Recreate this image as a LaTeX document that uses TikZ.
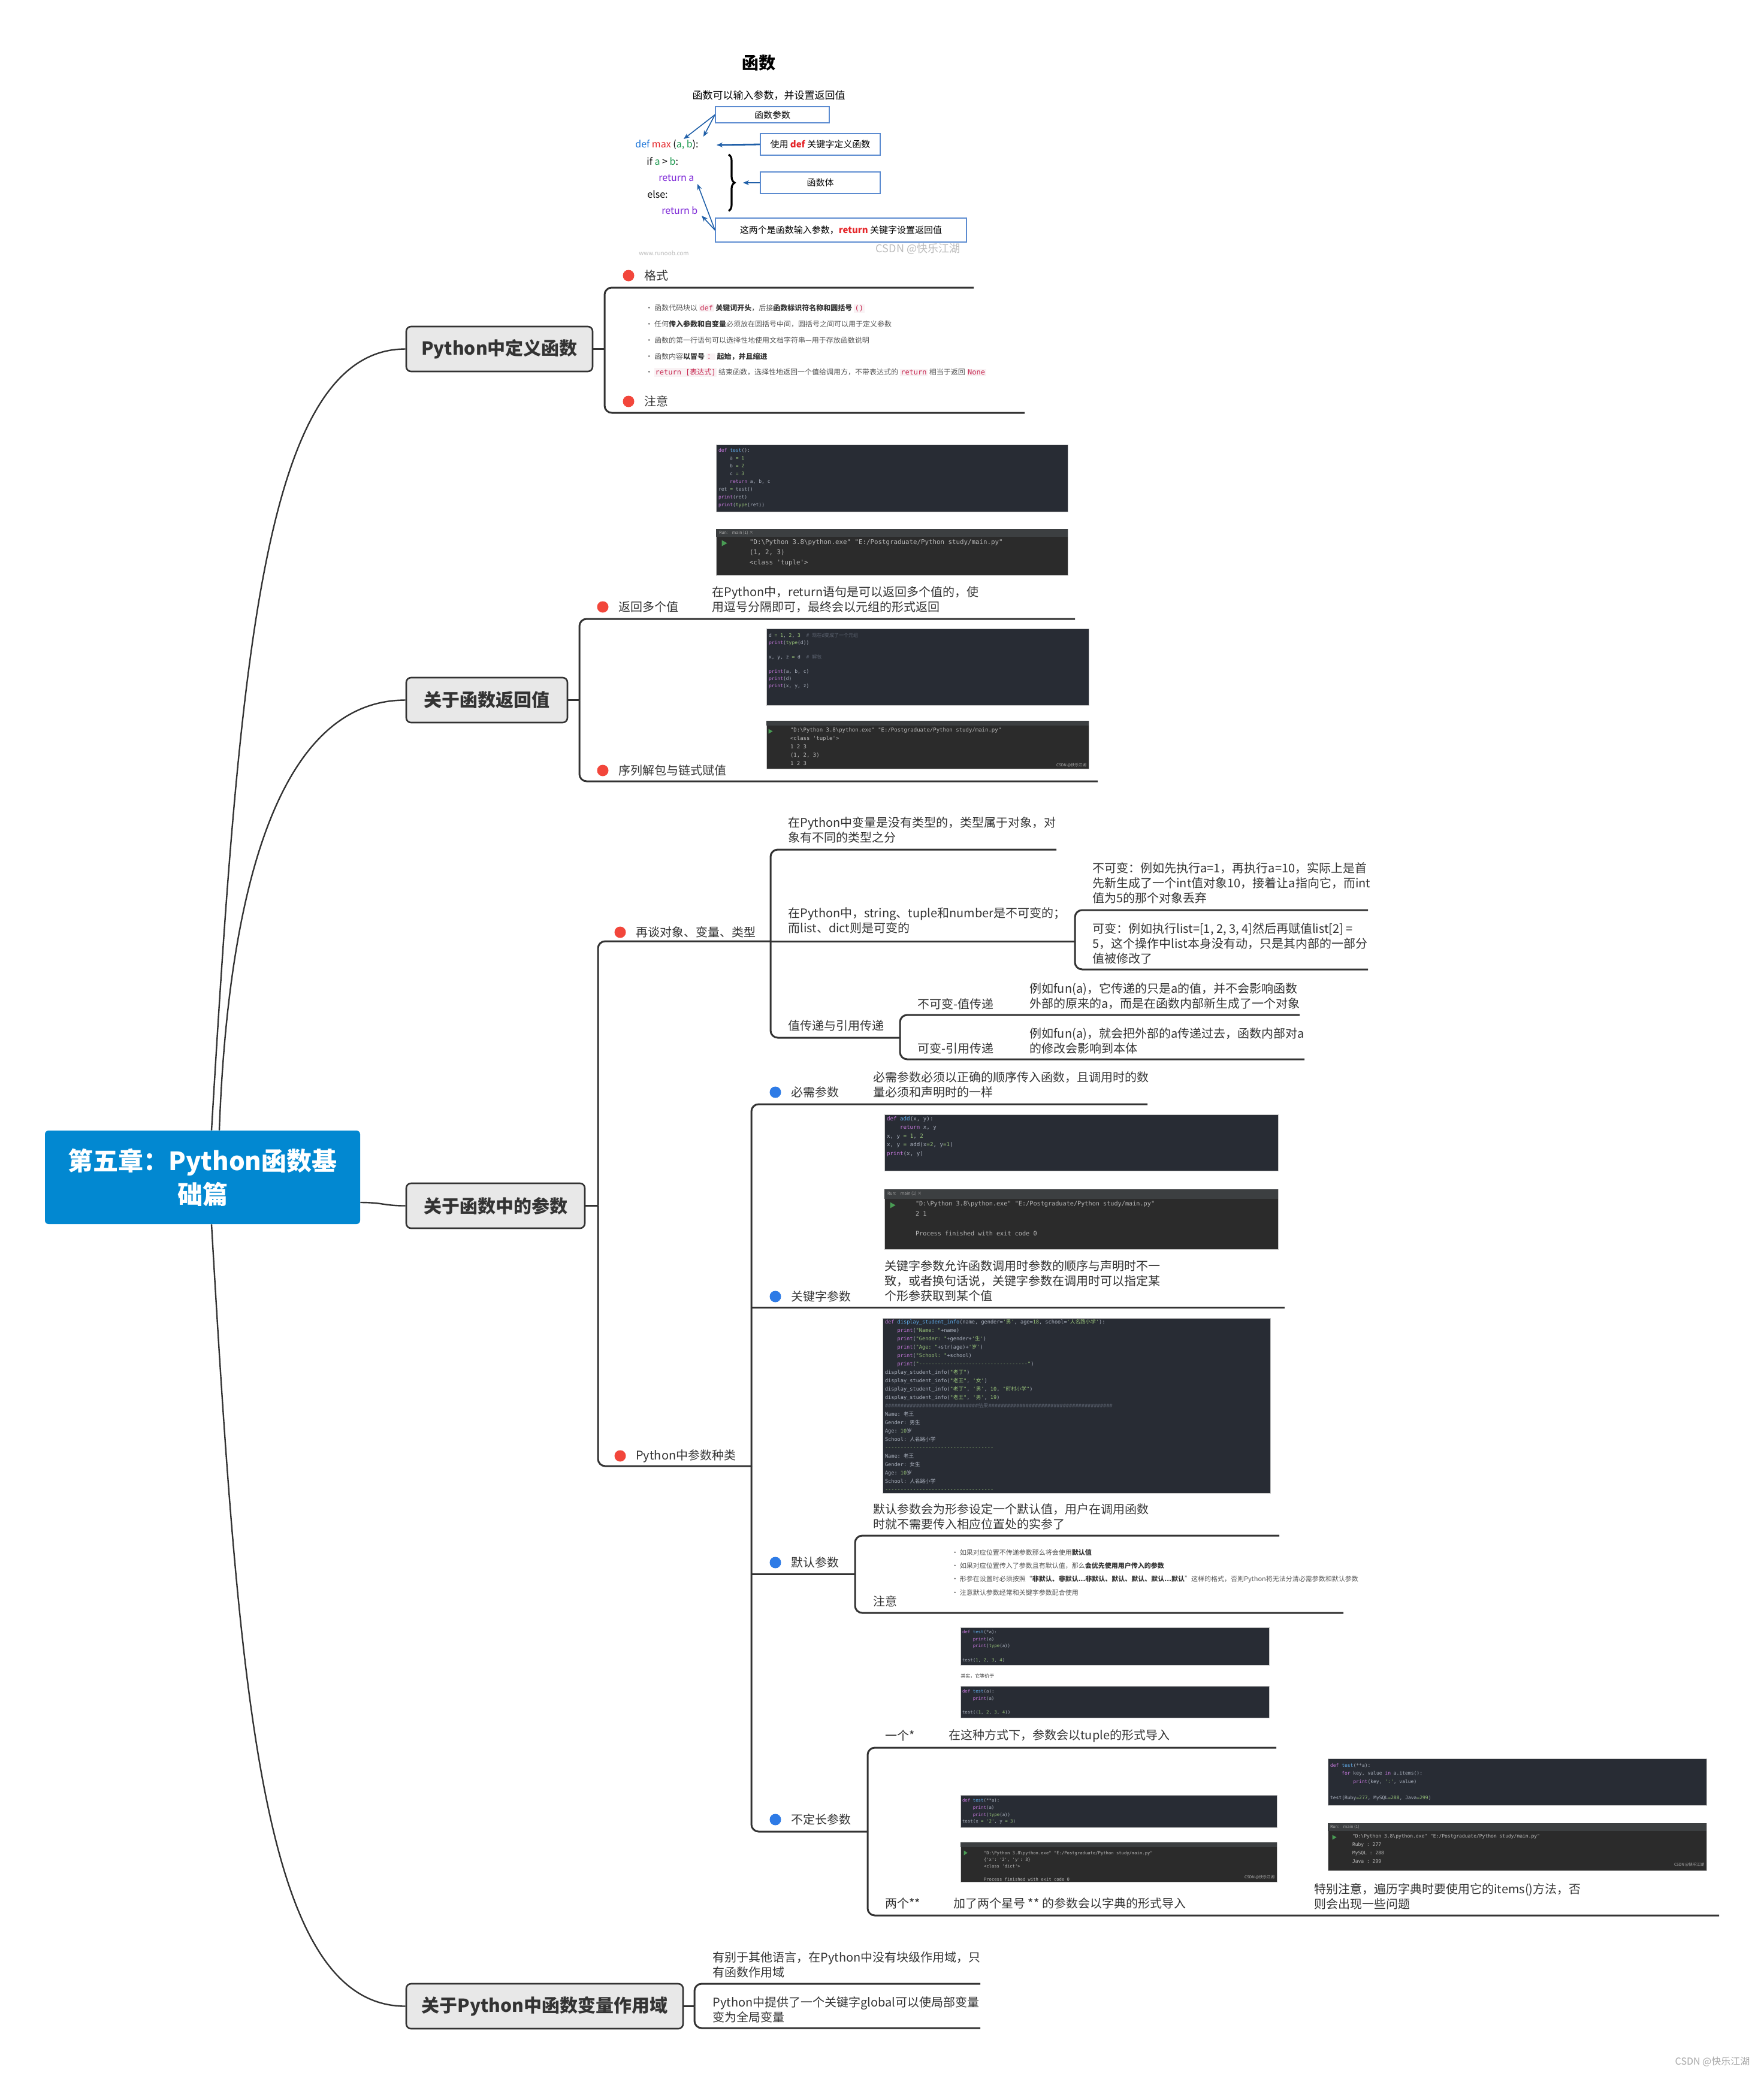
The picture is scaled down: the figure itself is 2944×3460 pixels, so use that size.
\documentclass[tikz,border=0pt]{standalone}
\usepackage{fontspec}
\setmainfont{Noto Sans CJK SC}
\setmonofont{DejaVu Sans Mono}
\usetikzlibrary{arrows.meta, fit, positioning, decorations.pathreplacing}

\definecolor{linegray}{HTML}{333333}
\definecolor{rootblue}{HTML}{0288D1}
\definecolor{topicgray}{HTML}{E8E8E8}
\definecolor{textdark}{HTML}{333333}
\definecolor{dotred}{HTML}{F2463B}
\definecolor{dotblue}{HTML}{2E7BE6}
\definecolor{codebg}{HTML}{282C34}
\definecolor{runbg}{HTML}{2B2B2B}
\definecolor{runhead}{HTML}{3C3F41}
\definecolor{codetext}{HTML}{ABB2BF}
\definecolor{ckw}{HTML}{C678DD}
\definecolor{cfn}{HTML}{61AFEF}
\definecolor{cnum}{HTML}{98C379}
\definecolor{ccmt}{HTML}{5C6370}
\definecolor{runtext}{HTML}{BBBBBB}
\definecolor{rungreen}{HTML}{499C54}
\definecolor{figblue}{HTML}{5B8BD0}
\definecolor{arrowblue}{HTML}{1F5FA8}
\definecolor{fdef}{HTML}{1A74D8}
\definecolor{fred}{HTML}{E5262A}
\definecolor{fgreen}{HTML}{1E9A50}
\definecolor{fpurple}{HTML}{7A22D6}
\definecolor{inlinered}{HTML}{C7254E}
\definecolor{inlinebg}{HTML}{F9F2F4}
\definecolor{bulletgray}{HTML}{555555}
\definecolor{wmgray}{HTML}{BBBBBB}

\newcommand\kwd[1]{\textcolor{ckw}{#1}}
\newcommand\fnc[1]{\textcolor{cfn}{#1}}
\newcommand\numc[1]{\textcolor{cnum}{#1}}
\newcommand\strc[1]{\textcolor{cnum}{#1}}
\newcommand\cmtc[1]{\textcolor{ccmt}{#1}}
\newcommand\cind{\hspace*{2.4em}}
\newcommand\zh[1]{{\rmfamily #1}}
\newcommand\hashes{\#\#\#\#\#\#\#\#\#\#\#\#\#\#\#\#\#\#\#\#\#\#\#\#\#\#\#\#\#\#}
\newcommand\runpath{"D:\textbackslash Python 3.8\textbackslash python.exe" "E:/Postgraduate/Python study/main.py"}
\newcommand\icode[1]{{\setlength{\fboxsep}{0.8pt}\colorbox{inlinebg}{\textcolor{inlinered}{\ttfamily #1}}}}

\tikzset{
  >={Stealth[length=5pt,width=4pt]},
  root/.style={fill=rootblue, text=white, rounded corners=3pt, align=center,
    font=\fontsize{21}{28}\selectfont\bfseries, minimum width=263pt, minimum height=78pt},
  topic/.style={fill=topicgray, draw=linegray, line width=1.3pt, rounded corners=4pt,
    font=\fontsize{15}{18}\selectfont\bfseries, text=textdark, minimum height=37.5pt},
  rootlink/.style={line width=1.2pt, draw=linegray},
  branch/.style={line width=1.5pt, draw=linegray, rounded corners=6pt},
  leaf/.style={anchor=west, inner sep=0pt, align=left, text=textdark,
    font=\fontsize{10}{12.5}\selectfont},
  bullets/.style={anchor=west, inner sep=0pt, align=left, text=bulletgray,
    font=\fontsize{6}{13.4}\selectfont},
  reddot/.style={circle, fill=dotred, minimum size=9.5pt, inner sep=0pt},
  bluedot/.style={circle, fill=dotblue, minimum size=9.5pt, inner sep=0pt},
  codebox/.style={fill=codebg, draw=gray!45, line width=0.4pt, inner sep=0pt},
  runbox/.style={fill=runbg, draw=gray!45, line width=0.4pt, inner sep=0pt},
  codetxt/.style={anchor=north west, inner sep=0pt, align=left, text=codetext,
    font=\ttfamily\fontsize{4}{6.5}\selectfont},
  runtxt/.style={codetxt, text=runtext},
  runhdr/.style={anchor=west, inner sep=0pt, text=gray!70, font=\fontsize{3.5}{4}\selectfont},
  wm/.style={anchor=south east, inner sep=0pt, text=gray!60, font=\fontsize{3.2}{4}\selectfont},
  figbox/.style={draw=figblue, line width=0.8pt, inner sep=0pt, text=black,
    font=\fontsize{7.5}{9}\selectfont},
  fcode/.style={anchor=west, inner sep=0pt, text=black, font=\fontsize{8}{10}\selectfont},
  figarrow/.style={->, draw=arrowblue, line width=0.8pt}
}

\begin{document}
\begin{tikzpicture}[x=0.5pt, y=-0.5pt]
  \fill[white] (0,0) rectangle (2944,3460);
  \useasboundingbox (0,0) rectangle (2944,3460);

  % --- ROOT AND MAIN TOPICS ---
  \node[root] (root) at (338,1965) {第五章：Python函数基\\础篇};
  \node[topic, minimum width=155.5pt] (t1) at (833.5,582.5) {Python中定义函数};
  \node[topic, minimum width=134.5pt] (t2) at (812.5,1168.5) {关于函数返回值};
  \node[topic, minimum width=149pt] (t3) at (827,2012.5) {关于函数中的参数};
  \node[topic, minimum width=231pt] (t4) at (909,3348.5) {关于Python中函数变量作用域};

  \draw[rootlink] ([xshift=7.5pt]root.north) .. controls (400,1100) and (440,582.5) .. (t1.west);
  \draw[rootlink] ([xshift=14pt]root.north) .. controls (380,1500) and (460,1168.5) .. (t2.west);
  \draw[rootlink] ([yshift=-21pt]root.east) .. controls (640,2007) and (640,2012.5) .. (t3.west);
  \draw[rootlink] ([xshift=7.5pt]root.south) .. controls (400,2850) and (440,3348.5) .. (t4.west);

  % --- BRACKETS AND UNDERLINES ---
  \foreach \name/\x/\y in {b1/1009/582.5, b1-up/1625/480, b1-dn/1710/689,
      b2/967/1168.5, b2-up/1794/1033, b2-dn/1832/1304,
      b3/998/2012.5, bA/1286/1571, bB/1254/2447,
      bA-up/1763/1418, bA2/1794/1571, bA3/1502/1732,
      bA2-up/2283/1519, bA2-dn/2283/1618, bA3-up/2169/1694, bA3-dn/2177/1768,
      bB-up/1915/1843, bB-kw/1254/2182, bB-kw-end/2144/2182, bB-def/1254/2627,
      bC/1427/2627, bC-up/2135/2563, bC-dn/2242/2692,
      bD/1448/3057, bD-up/2130/2917, bD-dn/2869/3197,
      b4/1159/3348.5, b4-up/1636/3311, b4-dn/1636/3385}
    \coordinate (\name) at (\x,\y);

  \foreach \i in {1,2,3,4} \draw[branch] (t\i.east) -- (b\i);
  \foreach \a/\b in {b1/b1-up, b1/b1-dn, b2/b2-up, b2/b2-dn, b3/bA, b3/bB,
      bA/bA-up, bA/bA3, bA2/bA2-up, bA2/bA2-dn, bA3/bA3-up, bA3/bA3-dn,
      bB/bB-up, bB/bD, bC/bC-up, bC/bC-dn, bD/bD-up, bD/bD-dn, b4/b4-up, b4/b4-dn}
    \draw[branch] (\a) |- (\b);
  \draw[branch] (bA) -- (bA2);
  \draw[branch] (bB-kw) -- (bB-kw-end);
  \draw[branch] (bB-def) -- (bC);

  % --- TOPIC 1: FUNCTION FIGURE ---
  \node[font=\fontsize{14}{16}\selectfont\bfseries] (f-title) at (1266,105) {函数};
  \node[font=\fontsize{8.5}{10}\selectfont] (f-sub) at (1283,159) {函数可以输入参数，并设置返回值};
  \node[figbox, minimum width=95pt, minimum height=13.5pt] (f-par) at (1289,191.5) {函数参数};
  \node[figbox, minimum width=100pt, minimum height=18pt] (f-def) at (1369,241) {使用 \textcolor{fred}{\textbf{def}} 关键字定义函数};
  \node[figbox, minimum width=100pt, minimum height=18pt] (f-body) at (1369,305) {函数体};
  \node[figbox, minimum width=209.5pt, minimum height=20pt] (f-ret) at (1403.5,384) {这两个是函数输入参数，\textcolor{fred}{\textbf{return}} 关键字设置返回值};

  \node[fcode] (f-l1) at (1060,242) {\textcolor{fdef}{def} \textcolor{fred}{max} (\textcolor{fgreen}{a, b}):};
  \node[fcode] (f-l2) at (1079,269) {if \textcolor{fgreen}{a} > \textcolor{fgreen}{b}:};
  \node[fcode, text=fpurple] (f-l3) at (1099,297) {return a};
  \node[fcode] (f-l4) at (1080,324) {else:};
  \node[fcode, text=fpurple] (f-l5) at (1104,351) {return b};
  \draw[decorate, decoration={brace, amplitude=5pt}, line width=1.6pt] (1216,258) -- (1216,352);

  \coordinate (f-pa) at (1141,232);
  \coordinate (f-pb) at (1174,228);
  \coordinate (f-ra) at (1164,307);
  \coordinate (f-rb) at (1171,360);
  \coordinate (f-brace) at (1240,305);
  \draw[figarrow] (f-par.west) -- (f-pa);
  \draw[figarrow] (f-par.west) -- (f-pb);
  \draw[figarrow] (f-ret.west) -- (f-ra);
  \draw[figarrow] (f-ret.west) -- (f-rb);
  \draw[figarrow, line width=1.4pt] (f-def.west) -- ([xshift=15pt]f-l1.east);
  \draw[figarrow, line width=1.4pt] (f-body.west) -- (f-brace);

  \node[text=wmgray, font=\fontsize{9}{10}\selectfont] (f-csdn) at (1532,415) {CSDN @快乐江湖};
  \node[text=wmgray, font=\fontsize{5}{6}\selectfont] (f-www) at (1108,423) {www.runoob.com};

  % --- TOPIC 1: FORMAT AND NOTES ---
  \node[reddot] (d-fmt) at (1049,460) {};
  \node[leaf, right=8pt of d-fmt] (l-fmt) {格式};
  \node[reddot] (d-note) at (1049,670) {};
  \node[leaf, right=8pt of d-note] (l-note) {注意};
  \node[bullets] (l-fmt-list) at (1077,568.5) {%
    \textbullet\ 函数代码块以 \icode{def} \textcolor{textdark}{\textbf{关键词开头}}，后接\textcolor{textdark}{\textbf{函数标识符名称和圆括号}} \icode{()}\\
    \textbullet\ 任何\textcolor{textdark}{\textbf{传入参数和自变量}}必须放在圆括号中间，圆括号之间可以用于定义参数\\
    \textbullet\ 函数的第一行语句可以选择性地使用文档字符串—用于存放函数说明\\
    \textbullet\ 函数内容\textcolor{textdark}{\textbf{以冒号}} \icode{\zh{：}} \textcolor{textdark}{\textbf{起始，并且缩进}}\\
    \textbullet\ \icode{return [\zh{表达式}]} 结束函数，选择性地返回一个值给调用方，不带表达式的 \icode{return} 相当于返回 \icode{None}};

  % --- TOPIC 2: RETURN VALUES ---
  \node[codebox, fit={(1195,742) (1782,854)}] (c1) {};
  \node[codetxt] (c1-txt) at ([shift={(4,6)}]c1.north west) {%
    \kwd{def} \fnc{test}():\\
    \cind a \numc{= 1}\\
    \cind b \numc{= 2}\\
    \cind c \numc{= 3}\\
    \cind\kwd{return} a, b, c\\
    ret \numc{=} test()\\
    \kwd{print}(ret)\\
    \kwd{print}(\numc{type}(ret))};

  \node[runbox, fit={(1195,883) (1782,960)}] (c2) {};
  \fill[runhead] (c2.north west) rectangle ([shift={(0,13)}]c2.north east);
  \node[runhdr] (c2-hdr) at ([shift={(5,7)}]c2.north west) {Run:\quad main (1) ×};
  \fill[rungreen] ([shift={(10,19)}]c2.north west) -- ++(9,5) -- ++(-9,5) -- cycle;
  \node[runtxt, font=\ttfamily\fontsize{5.4}{8.5}\selectfont] (c2-txt) at ([shift={(56,17)}]c2.north west) {%
    \runpath\\
    (1, 2, 3)\\
    <class 'tuple'>};

  \node[reddot] (d-ret1) at (1006,1013) {};
  \node[leaf, right=8pt of d-ret1] (l-ret1) {返回多个值};
  \node[leaf] (l-ret1c) at (1188,1001) {在Python中，return语句是可以返回多个值的，使\\用逗号分隔即可，最终会以元组的形式返回};

  \node[codebox, fit={(1279,1049) (1817,1177)}] (c3) {};
  \node[codetxt, font=\ttfamily\fontsize{4}{6}\selectfont] (c3-txt) at ([shift={(4,8)}]c3.north west) {%
    d \numc{= 1}, \numc{2}, \numc{3}\ \ \cmtc{\# \zh{现在d变成了一个元组}}\\
    \kwd{print}(\numc{type}(d))\\[6pt]
    x, y, z \numc{=} d\ \ \cmtc{\# \zh{解包}}\\[6pt]
    \kwd{print}(a, b, c)\\
    \kwd{print}(d)\\
    \kwd{print}(x, y, z)};

  \node[runbox, fit={(1279,1203) (1817,1283)}] (c4) {};
  \fill[runhead] (c4.north west) rectangle ([shift={(0,8)}]c4.north east);
  \fill[rungreen] ([shift={(4,14)}]c4.north west) -- ++(7,4) -- ++(-7,4) -- cycle;
  \node[runtxt, font=\ttfamily\fontsize{4.5}{7}\selectfont] (c4-txt) at ([shift={(40,12)}]c4.north west) {%
    \runpath\\
    <class 'tuple'>\\
    1 2 3\\
    (1, 2, 3)\\
    1 2 3};
  \node[wm] (c4-wm) at ([shift={(-4,-2)}]c4.south east) {CSDN @快乐江湖};

  \node[reddot] (d-ret2) at (1006,1286) {};
  \node[leaf, right=8pt of d-ret2] (l-ret2) {序列解包与链式赋值};

  % --- TOPIC 3: OBJECTS, VARIABLES, TYPES ---
  \node[reddot] (d-obj) at (1035,1556) {};
  \node[leaf, right=8pt of d-obj] (l-obj) {再谈对象、变量、类型};
  \node[leaf] (l-obj1) at (1315,1385.5) {在Python中变量是没有类型的，类型属于对象，对\\象有不同的类型之分};
  \node[leaf] (l-obj2) at (1315,1536.5) {在Python中，string、tuple和number是不可变的；\\而list、dict则是可变的};
  \node[leaf] (l-obj2a) at (1823,1474) {不可变：例如先执行a=1，再执行a=10，实际上是首\\先新生成了一个int值对象10，接着让a指向它，而int\\值为5的那个对象丢弃};
  \node[leaf] (l-obj2b) at (1823,1575) {可变：例如执行list=[1, 2, 3, 4]然后再赋值list[2] =\\5，这个操作中list本身没有动，只是其内部的一部分\\值被修改了};
  \node[leaf] (l-obj3) at (1315,1712) {值传递与引用传递};
  \node[leaf] (l-obj3a) at (1531,1676) {不可变-值传递};
  \node[leaf] (l-obj3a-c) at (1718,1662.5) {例如fun(a)，它传递的只是a的值，并不会影响函数\\外部的原来的a，而是在函数内部新生成了一个对象};
  \node[leaf] (l-obj3b) at (1531,1750) {可变-引用传递};
  \node[leaf] (l-obj3b-c) at (1718,1737) {例如fun(a)，就会把外部的a传递过去，函数内部对a\\的修改会影响到本体};

  % --- TOPIC 3: KINDS OF PARAMETERS ---
  \node[reddot] (d-kind) at (1035,2430) {};
  \node[leaf, right=8pt of d-kind] (l-kind) {Python中参数种类};

  % required
  \node[bluedot] (d-req) at (1294,1823) {};
  \node[leaf, right=8pt of d-req] (l-req) {必需参数};
  \node[leaf] (l-req-c) at (1457,1810.5) {必需参数必须以正确的顺序传入函数，且调用时的数\\量必须和声明时的一样};

  % keyword
  \node[codebox, fit={(1476,1860) (2133,1954)}] (c5) {};
  \node[codetxt, font=\ttfamily\fontsize{4.6}{7.3}\selectfont] (c5-txt) at ([shift={(4,3)}]c5.north west) {%
    \kwd{def} \fnc{add}(x, y):\\
    \cind\kwd{return} x, y\\
    x, y \numc{= 1}, \numc{2}\\
    x, y \numc{=} add(x\numc{=2}, y\numc{=1})\\
    \kwd{print}(x, y)};

  \node[runbox, fit={(1476,1985) (2133,2085)}] (c6) {};
  \fill[runhead] (c6.north west) rectangle ([shift={(0,16)}]c6.north east);
  \node[runhdr] (c6-hdr) at ([shift={(5,8)}]c6.north west) {Run:\quad main (1) ×};
  \fill[rungreen] ([shift={(10,22)}]c6.north west) -- ++(9,5) -- ++(-9,5) -- cycle;
  \node[runtxt, font=\ttfamily\fontsize{5.1}{8.25}\selectfont] (c6-txt) at ([shift={(52,20)}]c6.north west) {%
    \runpath\\
    2 1\\[8.25pt]
    Process finished with exit code 0};

  \node[bluedot] (d-kw) at (1294,2164) {};
  \node[leaf, right=8pt of d-kw] (l-kw) {关键字参数};
  \node[leaf] (l-kw-c) at (1476,2138) {关键字参数允许函数调用时参数的顺序与声明时不一\\致，或者换句话说，关键字参数在调用时可以指定某\\个形参获取到某个值};

  % default
  \node[codebox, fit={(1473,2200) (2120,2492)}] (c7) {};
  \node[codetxt, font=\ttfamily\fontsize{4.3}{7}\selectfont] (c7-txt) at ([shift={(4,2)}]c7.north west) {%
    \kwd{def} \fnc{display\_student\_info}(name, gender=\strc{'\zh{男}'}, age=\numc{18}, school=\strc{'\zh{人名路小学}'}):\\
    \cind\kwd{print}(\strc{"Name: "}+name)\\
    \cind\kwd{print}(\strc{"Gender: "}+gender+\strc{'\zh{生}'})\\
    \cind\kwd{print}(\strc{"Age: "}+str(age)+\strc{'\zh{岁}'})\\
    \cind\kwd{print}(\strc{"School: "}+school)\\
    \cind\kwd{print}(\strc{"-----------------------------------"})\\
    display\_student\_info(\strc{"\zh{老丁}"})\\
    display\_student\_info(\strc{"\zh{老王}"}, \strc{'\zh{女}'})\\
    display\_student\_info(\strc{"\zh{老丁}"}, \strc{'\zh{男}'}, \numc{10}, \strc{"\zh{町村小学}"})\\
    display\_student\_info(\strc{"\zh{老王}"}, \strc{'\zh{男}'}, \numc{19})\\
    \cmtc{\hashes\zh{结果}\hashes\#\#\#\#\#\#\#\#\#\#}\\
    Name: \zh{老王}\\
    Gender: \zh{男生}\\
    Age: \numc{10}\zh{岁}\\
    School: \zh{人名路小学}\\
    \numc{-----------------------------------}\\
    Name: \zh{老王}\\
    Gender: \zh{女生}\\
    Age: \numc{10}\zh{岁}\\
    School: \zh{人名路小学}\\
    \numc{-----------------------------------}};

  \node[bluedot] (d-def) at (1294,2608) {};
  \node[leaf, right=8pt of d-def] (l-def) {默认参数};
  \node[leaf] (l-def-c) at (1457,2531.5) {默认参数会为形参设定一个默认值，用户在调用函数\\时就不需要传入相应位置处的实参了};
  \node[leaf] (l-def-n) at (1457,2673) {注意};
  \node[bullets, font=\fontsize{5.5}{11.2}\selectfont] (l-def-list) at (1588,2624.5) {%
    \textbullet\ 如果对应位置不传递参数那么将会使用\textcolor{textdark}{\textbf{默认值}}\\
    \textbullet\ 如果对应位置传入了参数且有默认值，那么\textcolor{textdark}{\textbf{会优先使用用户传入的参数}}\\
    \textbullet\ 形参在设置时必须按照“\textcolor{textdark}{\textbf{非默认、非默认...非默认、默认、默认、默认...默认}}”这样的格式，否则Python将无法分清必需参数和默认参数\\
    \textbullet\ 注意默认参数经常和关键字参数配合使用};

  % variable length
  \node[codebox, fit={(1603,2716) (2118,2779)}] (c8) {};
  \node[codetxt, font=\ttfamily\fontsize{3.7}{5.8}\selectfont] (c8-txt) at ([shift={(3,5)}]c8.north west) {%
    \kwd{def} \fnc{test}(*a):\\
    \cind\kwd{print}(a)\\
    \cind\kwd{print}(\numc{type}(a))\\[5.8pt]
    test(\numc{1}, \numc{2}, \numc{3}, \numc{4})};
  \node[leaf, font=\fontsize{4}{5}\selectfont] (l-eq) at (1603,2798) {其实，它等价于};
  \node[codebox, fit={(1603,2814) (2118,2867)}] (c9) {};
  \node[codetxt, font=\ttfamily\fontsize{3.7}{5.8}\selectfont] (c9-txt) at ([shift={(3,6)}]c9.north west) {%
    \kwd{def} \fnc{test}(a):\\
    \cind\kwd{print}(a)\\[5.8pt]
    test((\numc{1}, \numc{2}, \numc{3}, \numc{4}))};

  \node[leaf] (l-one) at (1477,2897) {一个*};
  \node[leaf] (l-one-c) at (1583,2897) {在这种方式下，参数会以tuple的形式导入};

  \node[bluedot] (d-var) at (1294,3037) {};
  \node[leaf, right=8pt of d-var] (l-var) {不定长参数};

  \node[codebox, fit={(1603,2996) (2131,3050)}] (c10) {};
  \node[codetxt, font=\ttfamily\fontsize{3.7}{5.85}\selectfont] (c10-txt) at ([shift={(3,6)}]c10.north west) {%
    \kwd{def} \fnc{test}(**a):\\
    \cind\kwd{print}(a)\\
    \cind\kwd{print}(\numc{type}(a))\\
    test(x \numc{=} \strc{'2'}, y \numc{= 3})};

  \node[runbox, fit={(1603,3075) (2131,3141)}] (c11) {};
  \fill[runhead] (c11.north west) rectangle ([shift={(0,8)}]c11.north east);
  \fill[rungreen] ([shift={(6,14)}]c11.north west) -- ++(6,4) -- ++(-6,4) -- cycle;
  \node[runtxt, font=\ttfamily\fontsize{3.6}{5.5}\selectfont] (c11-txt) at ([shift={(39,15)}]c11.north west) {%
    \runpath\\
    \{'x': '2', 'y': 3\}\\
    <class 'dict'>\\[5.5pt]
    Process finished with exit code 0};
  \node[wm] (c11-wm) at ([shift={(-4,-4)}]c11.south east) {CSDN @快乐江湖};

  \node[leaf] (l-two) at (1477,3177) {两个**};
  \node[leaf] (l-two-c) at (1591,3177) {加了两个星号 ** 的参数会以字典的形式导入};

  \node[codebox, fit={(2216,2935) (2848,3013)}] (c12) {};
  \node[codetxt, font=\ttfamily\fontsize{4}{6.85}\selectfont] (c12-txt) at ([shift={(4,8)}]c12.north west) {%
    \kwd{def} \fnc{test}(**a):\\
    \cind\kwd{for} key, value \kwd{in} a.items():\\
    \cind\cind\kwd{print}(key, \strc{':'}, value)\\[6.85pt]
    test(Ruby\numc{=277}, MySQL\numc{=288}, Java\numc{=299})};

  \node[runbox, fit={(2216,3043) (2848,3122)}] (c13) {};
  \fill[runhead] (c13.north west) rectangle ([shift={(0,13)}]c13.north east);
  \node[runhdr] (c13-hdr) at ([shift={(4,7)}]c13.north west) {Run:\quad main (1)};
  \fill[rungreen] ([shift={(8,20)}]c13.north west) -- ++(7,4) -- ++(-7,4) -- cycle;
  \node[runtxt, font=\ttfamily\fontsize{4}{7}\selectfont] (c13-txt) at ([shift={(41,18)}]c13.north west) {%
    \runpath\\
    Ruby : 277\\
    MySQL : 288\\
    Java : 299};
  \node[wm] (c13-wm) at ([shift={(-4,-6)}]c13.south east) {CSDN @快乐江湖};

  \node[leaf] (l-two-cc) at (2193,3165.5) {特别注意，遍历字典时要使用它的items()方法，否\\则会出现一些问题};

  % --- TOPIC 4: SCOPE ---
  \node[leaf] (l-s1) at (1189,3279.5) {有别于其他语言，在Python中没有块级作用域，只\\有函数作用域};
  \node[leaf] (l-s2) at (1189,3354.5) {Python中提供了一个关键字global可以使局部变量\\变为全局变量};

  \node[text=gray!70, font=\fontsize{8}{9}\selectfont] (wm) at (2858,3441) {CSDN @快乐江湖};
\end{tikzpicture}
\end{document}
